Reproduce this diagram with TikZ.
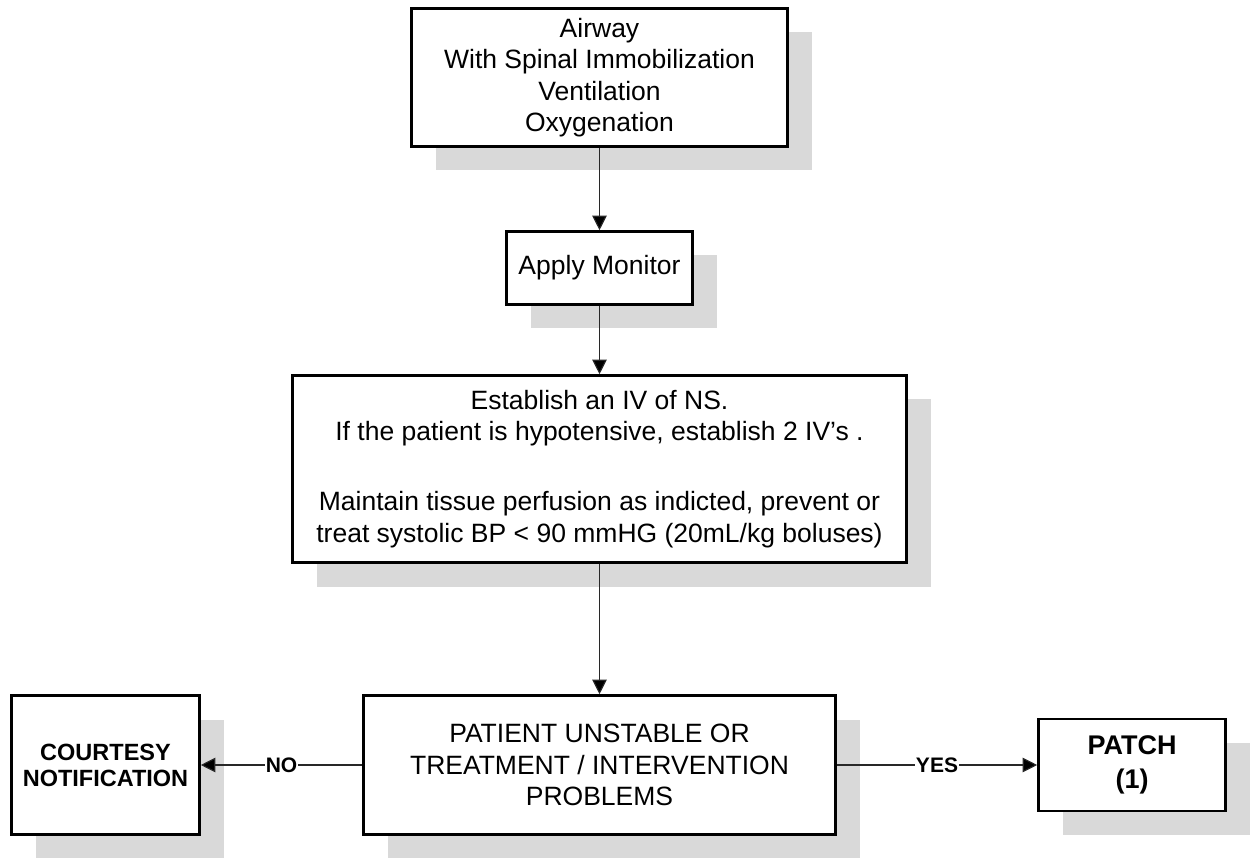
\documentclass[tikz,border=0pt]{standalone}
\usepackage{fontspec}
\setmainfont{Liberation Sans}
\usetikzlibrary{arrows.meta,shadows}
\definecolor{shadowgray}{RGB}{217,217,217}
\definecolor{linegray}{RGB}{40,40,40}
\tikzset{
  box/.style={draw=black, line width=2.6pt, fill=white, align=center, inner sep=0pt,
    drop shadow={shadow xshift=24pt, shadow yshift=-24pt, fill=shadowgray, opacity=1}},
  body/.style={font=\fontsize{26.5}{31.5}\selectfont},
  conn/.style={draw=linegray, line width=1.1pt, -{Triangle[width=14.5pt,length=14.5pt,fill=black]}},
  lbl/.style={fill=white, inner sep=1pt, text=black, font=\fontsize{21}{24}\selectfont\bfseries},
}
\begin{document}
\begin{tikzpicture}[x=1pt, y=-1pt]
  \fill[white] (0,0) rectangle (1251,858);
  \useasboundingbox (0,0) rectangle (1251,858);

  % main column
  \node[box, body, minimum width=376pt, minimum height=138pt] (airway) at (599.5,77.5)
    {Airway\\With Spinal Immobilization\\Ventilation\\Oxygenation};
  \node[box, body, minimum width=186pt, minimum height=73pt] (monitor) at (599.5,268)
    {Apply Monitor};
  \node[box, body, minimum width=614pt, minimum height=187pt] (iv) at (599.5,469)
    {Establish an IV of NS.\\If the patient is hypotensive, establish 2 IV’s .\\[38.5pt]
     Maintain tissue perfusion as indicted, prevent or\\treat systolic BP < 90 mmHG (20mL/kg boluses)};
  \node[box, body, minimum width=472pt, minimum height=139pt] (unstable) at (599.5,765)
    {PATIENT UNSTABLE OR\\TREATMENT / INTERVENTION\\PROBLEMS};

  % outcomes
  \node[box, minimum width=188pt, minimum height=139pt,
        font=\fontsize{23.5}{26}\selectfont\bfseries] (courtesy) at (105.5,765)
    {COURTESY\\NOTIFICATION};
  \node[box, minimum width=187pt, minimum height=92pt,
        font=\fontsize{27}{34}\selectfont\bfseries] (patch) at (1132,765)
    {PATCH\\(1)};

  % connectors
  \draw[conn] (airway) -- (monitor);
  \draw[conn] (monitor) -- (iv);
  \draw[conn] (iv) -- (unstable);
  \draw[conn] (unstable.west) -- node[lbl] {NO} (courtesy.east);
  \draw[conn] (unstable.east) -- node[lbl] {YES} (patch.west);
\end{tikzpicture}
\end{document}
